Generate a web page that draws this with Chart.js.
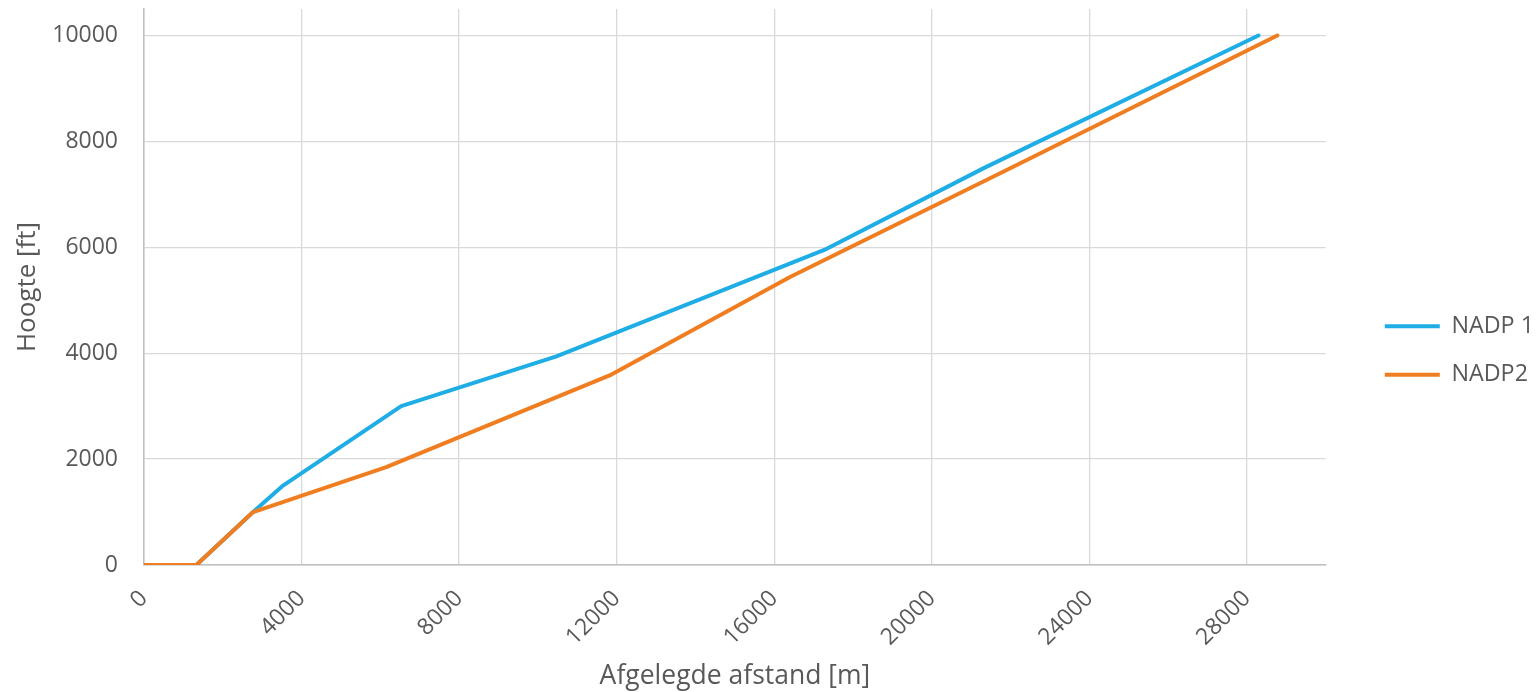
<!DOCTYPE html>
<html>
<head>
<meta charset="utf-8">
<script src="https://cdn.jsdelivr.net/npm/chart.js@4.4.1/dist/chart.umd.min.js"></script>
<style>
html,body{margin:0;padding:0;background:#ffffff;}
#wrap{width:1540px;height:692px;position:relative;}
</style>
</head>
<body>
<div id="wrap"><canvas id="c"></canvas></div>
<script>
// ---- data ----
const seriesNames = ['NADP 1', 'NADP2'];
const nadp1X = [0, 1330, 2770, 3530, 6530, 10470, 17270, 21330, 28290];
const nadp1Y = [0, 0, 1000, 1500, 3000, 3940, 5950, 7500, 10000];
const nadp2X = [0, 1330, 2770, 6150, 11820, 16400, 21900, 28770];
const nadp2Y = [0, 0, 1000, 1850, 3580, 5440, 7460, 10000];
const xTicks = [0, 4000, 8000, 12000, 16000, 20000, 24000, 28000];
const yTicks = [0, 2000, 4000, 6000, 8000, 10000];
const xMax = 30000;
const yMax = 10500;
const xTitle = 'Afgelegde afstand [m]';
const yTitle = 'Hoogte [ft]';

const FONT = '"Open Sans", "Noto Sans", sans-serif';
const TXT = '#595959';
const BLUE = '#1fade6';
const ORANGE = '#f07e21';

const toPts = (xs, ys) => xs.map((x, i) => ({x: x, y: ys[i]}));

new Chart(document.getElementById('c'), {
  type: 'line',
  data: {
    datasets: [
      {label: seriesNames[0], data: toPts(nadp1X, nadp1Y), borderColor: BLUE, backgroundColor: BLUE, order: 2,
       borderWidth: 4, pointRadius: 0, pointHoverRadius: 0, tension: 0, borderCapStyle: 'round', borderJoinStyle: 'round'},
      {label: seriesNames[1], data: toPts(nadp2X, nadp2Y), borderColor: ORANGE, backgroundColor: ORANGE, order: 1,
       borderWidth: 4, pointRadius: 0, pointHoverRadius: 0, tension: 0, borderCapStyle: 'round', borderJoinStyle: 'round'}
    ]
  },
  options: {
    responsive: true,
    maintainAspectRatio: false,
    animation: false,
    events: [],
    layout: {padding: {top: 9, left: 0, right: -4, bottom: 0}},
    scales: {
      x: {
        type: 'linear', min: 0, max: xMax,
        afterBuildTicks: s => { s.ticks = xTicks.map(v => ({value: v})); },
        afterFit: s => { s.height = 127; },
        ticks: {minRotation: 45, maxRotation: 45, autoSkip: false, padding: 20,
                color: TXT, font: {family: FONT, size: 23}, callback: v => String(v)},
        grid: {color: '#d9d9d9', lineWidth: 1.3, drawTicks: false},
        border: {color: '#bfbfbf', width: 1.5},
        title: {display: true, text: xTitle, color: TXT, font: {family: FONT, size: 26.5},
                padding: {top: 0, bottom: 0}}
      },
      y: {
        type: 'linear', min: 0, max: yMax,
        afterBuildTicks: s => { s.ticks = yTicks.map(v => ({value: v})); },
        afterFit: s => { s.width = 144; },
        ticks: {padding: 0, color: TXT, font: {family: FONT, size: 23, lineHeight: 0.75}, callback: v => String(v)},
        grid: {color: '#d9d9d9', lineWidth: 1.3, drawTicks: true, tickLength: 26, tickColor: 'rgba(0,0,0,0)'},
        border: {color: '#bfbfbf', width: 1.5},
        title: {display: true, text: yTitle, color: TXT, font: {family: FONT, size: 26},
                padding: {top: 12, bottom: 9}}
      },
      gap: {
        type: 'linear', position: 'right', display: true,
        ticks: {display: false}, grid: {display: false}, border: {display: false},
        afterFit: s => { s.width = 34; }
      }
    },
    plugins: {
      legend: {
        position: 'right',
        labels: {
          boxWidth: 55, boxHeight: 4, padding: 25, color: TXT,
          font: {family: FONT, size: 23.3},
          sort: (a, b) => a.datasetIndex - b.datasetIndex,
          generateLabels: chart => {
            const items = Chart.defaults.plugins.legend.labels.generateLabels(chart);
            items.forEach(it => { it.lineWidth = 0; it.fillStyle = it.strokeStyle; });
            return items;
          }
        }
      },
      tooltip: {enabled: false}
    }
  }
});
</script>
</body>
</html>
